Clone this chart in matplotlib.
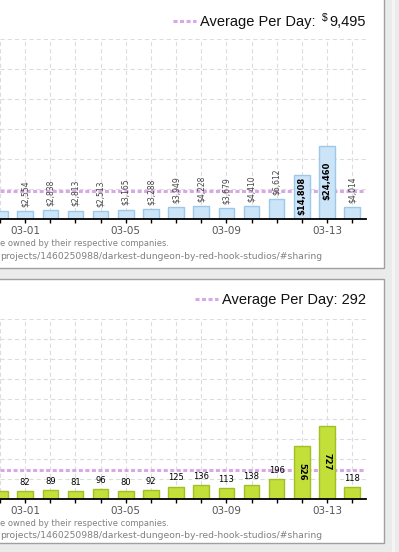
import matplotlib
matplotlib.use('Agg')
import matplotlib.pyplot as plt
from matplotlib.patches import Rectangle
from matplotlib.lines import Line2D

# data (02-28 bar is cut off at the left edge)
dates = ['02-28', '03-01', '03-02', '03-03', '03-04', '03-05', '03-06', '03-07',
         '03-08', '03-09', '03-10', '03-11', '03-12', '03-13', '03-14']
funding = [2600, 2554, 2838, 2813, 2513, 3165, 3288, 3949,
           4228, 3679, 4410, 6612, 14808, 24460, 4014]
backers = [78, 82, 89, 81, 96, 80, 92, 125, 136, 113, 138, 196, 526, 727, 118]
avg_funding = 9495
avg_backers = 292
shown_dates = ['03-01', '03-05', '03-09', '03-13']
footer1 = 'e owned by their respective companies.'
footer2 = 'projects/1460250988/darkest-dungeon-by-red-hook-studios/#sharing'

plt.rcParams['lines.scale_dashes'] = False
title_font = ['Liberation Sans', 'DejaVu Sans']

W, H = 399, 552
fig = plt.figure(figsize=(W / 100, H / 100), dpi=100)
fig.patch.set_facecolor('#ebebeb')


def fx(x):
    return x / W


def fy(y):
    return 1 - y / H


# white panels (behind the axes)
for top, bottom in [(-2, 268), (279, 543)]:
    fig.patches.append(Rectangle((fx(-2), fy(bottom)), fx(386), (bottom - top) / H,
                                 transform=fig.transFigure, facecolor='white',
                                 edgecolor='#a0a0a0', linewidth=1, zorder=-5))
fig.patches.append(Rectangle((fx(392), 0), fx(3), 1, transform=fig.transFigure,
                             facecolor='#f4f4f4', edgecolor='none', zorder=-5))

x = list(range(len(dates)))


def draw_chart(top_px, values, ymax, ystep, avg, fill, edge, fmt, rot_out, rot_in,
               out_color, out_size):
    ax = fig.add_axes([fx(0), fy(top_px + 180), fx(366), 180 / H])
    ax.set_facecolor('none')
    # the chart continues past the left edge of the screenshot
    xmin = 0.258
    ax.set_xlim(xmin, 14.55)
    ax.set_ylim(0, ymax)
    ax.set_xticks(x)
    ax.set_xticklabels([d if d in shown_dates else '' for d in dates])
    ax.set_yticks(range(0, ymax + 1, ystep))
    ax.tick_params(axis='y', left=False, labelleft=False)
    ax.tick_params(axis='x', length=3, width=1, color='black', pad=2,
                   labelsize=7.5, labelcolor='#555555')
    ax.grid(True, color='#dcdcdc', linestyle=(0, (3, 2.2)), linewidth=0.8)
    ax.set_axisbelow(True)
    for s in ['top', 'left', 'right']:
        ax.spines[s].set_visible(False)
    ax.spines['bottom'].set_linewidth(1.3)
    ax.spines['bottom'].set_zorder(5)

    ax.axhline(avg, color='#d9a6e6', linewidth=2.2, linestyle=(0, (2.9, 1.8)), zorder=1)
    ax.bar(x, values, width=0.62, color=fill, edgecolor=edge, linewidth=1, zorder=2)

    for xi, v in zip(x, values):
        if xi < xmin:
            continue  # label of the cut-off bar is outside the screenshot
        label = fmt(v)
        if v > 0.2 * ymax:
            ax.text(xi, v * 0.52, label, rotation=rot_in, ha='center', va='center',
                    fontsize=6, fontweight='bold', color='black', zorder=4)
        else:
            ax.annotate(label, (xi, v), xytext=(0, 3), textcoords='offset points',
                        rotation=rot_out, ha='center', va='bottom',
                        fontsize=out_size, color=out_color, zorder=4)
    return ax


draw_chart(39, funding, 60000, 10000, avg_funding, '#cce4f7', '#9ec8ea',
           lambda v: '\\$' + format(v, ','), 90, 90, '#444444', 5.5)
draw_chart(319, backers, 1800, 200, avg_backers, '#c3df3a', '#a2bf26',
           lambda v: str(v), 0, 270, 'black', 6)

# legend-like titles
fig.lines.append(Line2D([fx(173), fx(196)], [fy(21), fy(21)], transform=fig.transFigure,
                        color='#d9a6e6', linewidth=2.2, linestyle=(0, (2.9, 1.8))))
fig.text(fx(315), fy(22), 'Average Per Day:', ha='right', va='center',
         fontsize=10.5, family=title_font, color='#111111')
fig.text(fx(325), fy(18), '\\$', ha='center', va='center',
         fontsize=7.5, family=title_font, color='#111111')
fig.text(fx(366), fy(22), '9,495', ha='right', va='center',
         fontsize=10.5, family=title_font, color='#111111')

fig.lines.append(Line2D([fx(195), fx(218)], [fy(299), fy(299)], transform=fig.transFigure,
                        color='#d9a6e6', linewidth=2.2, linestyle=(0, (2.9, 1.8))))
fig.text(fx(366), fy(300), 'Average Per Day: ' + str(avg_backers), ha='right', va='center',
         fontsize=10.5, family=title_font, color='#111111')

# footers
for base in [243, 523]:
    fig.text(fx(0), fy(base), footer1, ha='left', va='center', fontsize=6, color='#808080')
    fig.text(fx(0), fy(base + 13), footer2, ha='left', va='center', fontsize=6.7,
             color='#808080')

fig.savefig('out.png', dpi=100, facecolor=fig.get_facecolor())
